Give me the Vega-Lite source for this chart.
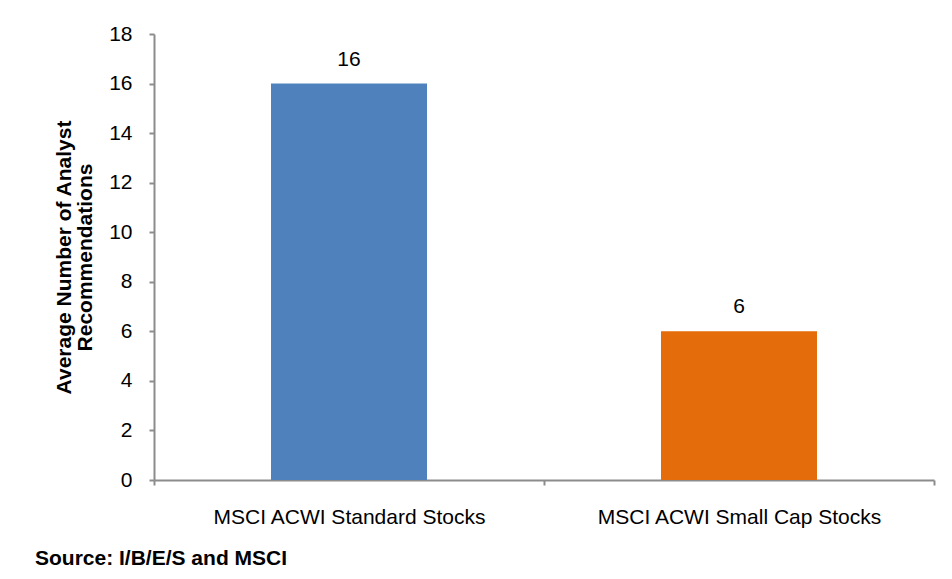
{
  "$schema": "https://vega.github.io/schema/vega-lite/v6.json",
  "autosize": "none",
  "width": 780,
  "height": 446,
  "padding": {"left": 154, "top": 34, "right": 18, "bottom": 99},
  "background": "white",
  "config": {
    "font": "Liberation Sans",
    "view": {"stroke": null}
  },
  "title": {
    "text": "Source: I/B/E/S and MSCI",
    "orient": "bottom",
    "anchor": "start",
    "frame": "group",
    "dx": -119,
    "offset": 21,
    "fontSize": 21,
    "fontWeight": "bold",
    "color": "#000000",
    "font": "Liberation Sans"
  },
  "data": {
    "values": [
      {"category": "MSCI ACWI Standard Stocks", "value": 16},
      {"category": "MSCI ACWI Small Cap Stocks", "value": 6}
    ]
  },
  "encoding": {
    "x": {
      "field": "category",
      "type": "nominal",
      "sort": null,
      "scale": {"paddingInner": 0, "paddingOuter": 0},
      "axis": {
        "title": null,
        "labelAngle": 0,
        "labelFontSize": 21,
        "labelColor": "#000000",
        "labelPadding": 21,
        "labelLimit": 0,
        "domainColor": "#8c8c8c",
        "domainWidth": 2,
        "tickColor": "#8c8c8c",
        "tickWidth": 2,
        "tickSize": 5,
        "tickBand": "extent"
      }
    },
    "y": {
      "field": "value",
      "type": "quantitative",
      "scale": {"domain": [0, 18]},
      "axis": {
        "title": ["Average Number of Analyst", "Recommendations"],
        "titleFontSize": 21,
        "titleFontWeight": "bold",
        "titleColor": "#000000",
        "titlePadding": 13,
        "titleLineHeight": 21,
        "values": [0, 2, 4, 6, 8, 10, 12, 14, 16, 18],
        "labelFontSize": 21,
        "labelColor": "#000000",
        "labelPadding": 17,
        "grid": false,
        "domainColor": "#8c8c8c",
        "domainWidth": 2,
        "tickColor": "#8c8c8c",
        "tickWidth": 2,
        "tickSize": 5
      }
    }
  },
  "layer": [
    {
      "mark": {"type": "bar", "width": {"band": 0.4}},
      "encoding": {
        "color": {
          "field": "category",
          "type": "nominal",
          "scale": {
            "domain": ["MSCI ACWI Standard Stocks", "MSCI ACWI Small Cap Stocks"],
            "range": ["#4F81BD", "#E46C0A"]
          },
          "legend": null
        }
      }
    },
    {
      "mark": {"type": "text", "dy": -18, "baseline": "alphabetic", "fontSize": 21, "color": "#000000"},
      "encoding": {"text": {"field": "value", "type": "quantitative"}}
    }
  ]
}
